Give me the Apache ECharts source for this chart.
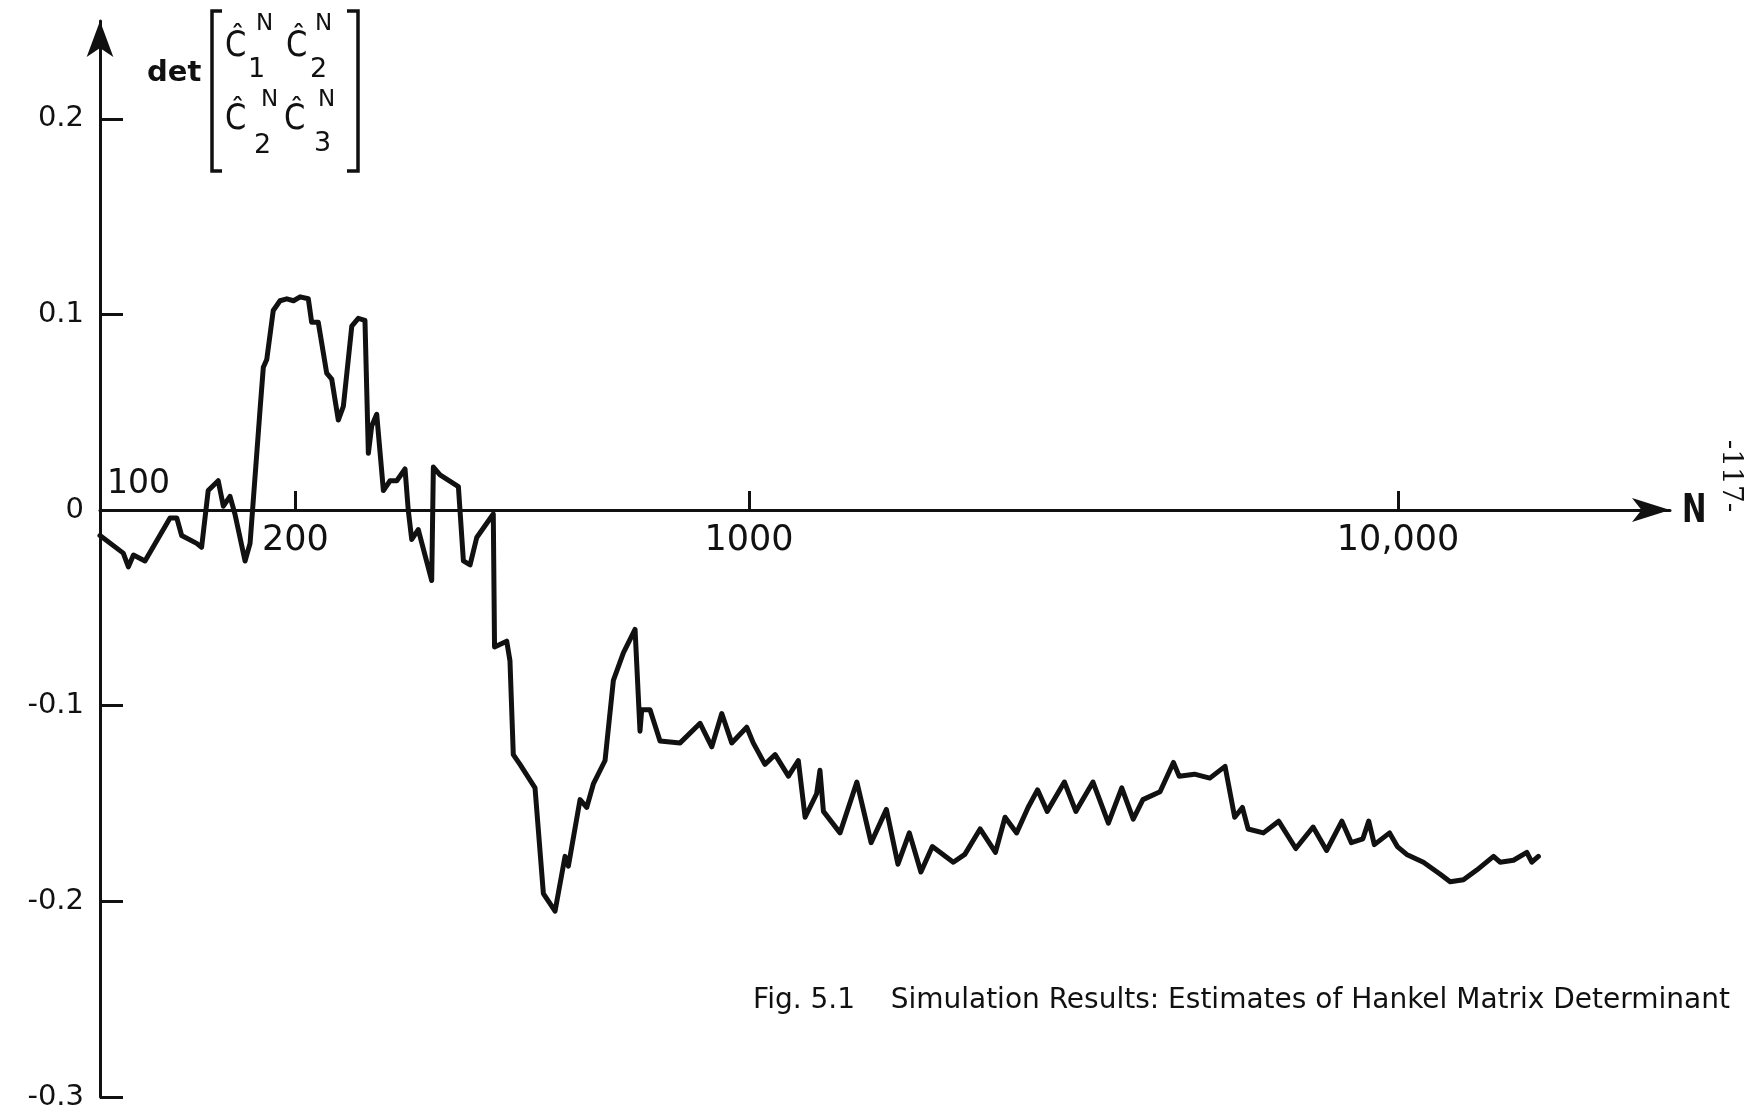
<!DOCTYPE html>
<html>
<head>
<meta charset="utf-8">
<script src="https://cdn.jsdelivr.net/npm/echarts@6/dist/echarts.min.js"></script>
<style>
  html, body { margin: 0; padding: 0; background: #fff; }
  #chart { width: 1756px; height: 1117px; }
</style>
</head>
<body>
<div id="chart"></div>
<script>
// sample size N (log axis) and the estimated determinant at that N
const sampleN = [
  100, 108.6, 110.6, 112.6, 117.3, 128.2, 131.3, 133.6, 140.9, 143.4,
  146.8, 152.1, 154.9, 158.6, 161.4, 167.3, 170.3, 176.4, 178.5, 180.7,
  184.9, 189.4, 194, 198.7, 203.4, 209.4, 211.9, 216.9, 223.5, 227.5,
  232.9, 237.1, 244.3, 250, 256, 259.1, 262.2, 266.9, 273.3, 279.8,
  286.6, 295.1, 298.5, 302.2, 309.3, 324.4, 326.3, 334.1, 356.6, 363,
  371.7, 380.6, 403.6, 405.4, 423.3, 428.2, 433.3, 443.7, 468, 482.1,
  502.5, 520.6, 526.8, 549.1, 562.2, 575.6, 600, 618, 640.3, 667.4,
  679.2, 683.4, 703.8, 729.2, 783.1, 840.6, 876.2, 907.8, 940.5, 991.9,
  1015, 1058, 1097, 1150, 1191, 1220, 1271, 1286, 1302, 1381,
  1466, 1542, 1628, 1696, 1766, 1840, 1916, 2064, 2150, 2270,
  2397, 2480, 2584, 2691, 2783, 2880, 3061, 3188, 3388, 3578,
  3752, 3908, 4044, 4298, 4507, 4599, 4856, 5128, 5413, 5601,
  5756, 5874, 6202, 6546, 6957, 7397, 7760, 8193, 8473, 8826,
  9011, 9193, 9703, 9975, 10310, 10940, 11600, 12030, 12610, 13220,
  14030, 14360, 15060, 15790, 16070, 16450
];
const determinant = [
  -0.013, -0.022, -0.029, -0.023, -0.026, -0.004, -0.004, -0.013, -0.017, -0.019,
  0.010, 0.015, 0.002, 0.007, -0.002, -0.026, -0.017, 0.051, 0.073, 0.077,
  0.102, 0.107, 0.108, 0.107, 0.109, 0.108, 0.096, 0.096, 0.070, 0.067,
  0.046, 0.053, 0.094, 0.098, 0.097, 0.029, 0.043, 0.049, 0.010, 0.015,
  0.015, 0.021, 0.000, -0.015, -0.010, -0.036, 0.022, 0.018, 0.012, -0.026,
  -0.028, -0.014, -0.002, -0.070, -0.067, -0.077, -0.125, -0.130, -0.142, -0.196,
  -0.205, -0.177, -0.182, -0.148, -0.152, -0.140, -0.128, -0.087, -0.073, -0.061,
  -0.113, -0.102, -0.102, -0.118, -0.119, -0.109, -0.121, -0.104, -0.119, -0.111,
  -0.119, -0.130, -0.125, -0.136, -0.128, -0.157, -0.145, -0.133, -0.154, -0.165,
  -0.139, -0.170, -0.153, -0.181, -0.165, -0.185, -0.172, -0.180, -0.176, -0.163,
  -0.175, -0.157, -0.165, -0.152, -0.143, -0.154, -0.139, -0.154, -0.139, -0.160,
  -0.142, -0.158, -0.148, -0.144, -0.129, -0.136, -0.135, -0.137, -0.131, -0.157,
  -0.152, -0.163, -0.165, -0.159, -0.173, -0.162, -0.174, -0.159, -0.170, -0.168,
  -0.159, -0.171, -0.165, -0.172, -0.176, -0.180, -0.186, -0.190, -0.189, -0.184,
  -0.177, -0.180, -0.179, -0.175, -0.180, -0.177
];
const yTicks = [-0.3, -0.2, -0.1, 0, 0.1, 0.2];
const xTicks = [200, 1000, 10000];
const xTickLabels = { 200: '200', 1000: '1000', 10000: '10,000' };

const ink = '#111';
const yMin = -0.3, yMax = 0.25;
const gridTop = 21, gridBottom = 20, chartH = 1117;
// push the N axis up from the grid bottom to the y = 0 line
const plotH = chartH - gridTop - gridBottom;
const zeroOffset = plotH * (0 - yMin) / (yMax - yMin);

const chart = echarts.init(document.getElementById('chart'));

const txt = (x, y, text, font, extra) => ({
  type: 'text', x: x, y: y, silent: true,
  style: Object.assign({ text: text, font: font, fill: ink, verticalAlign: 'middle' }, extra || {})
});
const narrow = (el, s) => Object.assign(el, { scaleX: s });
const cFont = '36px "DejaVu Sans"';
const supFont = '23px "DejaVu Sans"';
const subFont = '27px "DejaVu Sans"';

const option = {
  animation: false,
  backgroundColor: '#fff',
  grid: { left: 100, right: 86, top: gridTop, bottom: gridBottom, containLabel: false },
  xAxis: {
    type: 'log',
    logBase: 10,
    min: 100,
    max: 26240,
    position: 'bottom',
    offset: -zeroOffset,
    axisLine: {
      onZero: false,
      symbol: ['none', 'arrow'],
      symbolSize: [18, 38],
      lineStyle: { color: ink, width: 3 }
    },
    axisTick: {
      inside: true, length: 19, customValues: xTicks,
      lineStyle: { color: ink, width: 3 }
    },
    axisLabel: {
      customValues: xTicks,
      margin: 13,
      color: ink,
      fontFamily: 'DejaVu Sans',
      fontSize: 35,
      formatter: v => xTickLabels[Math.round(v)] || String(v)
    },
    splitLine: { show: false },
    minorTick: { show: false }
  },
  yAxis: {
    type: 'value',
    min: yMin,
    max: yMax,
    interval: 0.1,
    axisLine: {
      show: true,
      symbol: ['none', 'arrow'],
      symbolSize: [20, 36],
      lineStyle: { color: ink, width: 3 }
    },
    axisTick: {
      show: true, inside: true, length: 23, customValues: yTicks,
      lineStyle: { color: ink, width: 3 }
    },
    axisLabel: {
      customValues: yTicks,
      margin: 16,
      color: ink,
      fontFamily: 'DejaVu Sans',
      fontSize: 29,
      formatter: v => (Math.abs(v) < 1e-9 ? '0' : v.toFixed(1))
    },
    splitLine: { show: false }
  },
  series: [{
    type: 'line',
    data: sampleN.map((n, i) => [n, determinant[i]]),
    showSymbol: false,
    symbol: 'none',
    lineStyle: { color: ink, width: 5, join: 'round', cap: 'round' }
  }],
  graphic: [
    // "100" sits above the N axis at its origin
    txt(107, 484, '100', '33px "DejaVu Sans"'),
    narrow(txt(1682, 512, 'N', 'bold 39px "DejaVu Sans"'), 0.75),
    {
      type: 'text', x: 1730, y: 476, rotation: -Math.PI / 2, silent: true,
      style: { text: '-117-', font: '28px "DejaVu Serif"', fill: ink, align: 'center', verticalAlign: 'middle' }
    },
    // y-axis title: det of the 2x2 Hankel matrix estimate
    txt(147, 73, 'det', 'bold 29px "DejaVu Sans"'),
    { type: 'polyline', silent: true, shape: { points: [[222, 11], [212, 11], [212, 171], [222, 171]] },
      style: { stroke: ink, lineWidth: 3.5, fill: null } },
    { type: 'polyline', silent: true, shape: { points: [[347, 11], [358, 11], [358, 171], [347, 171]] },
      style: { stroke: ink, lineWidth: 3.5, fill: null } },
    narrow(txt(225, 47, '\u0108', cFont), 0.85),
    txt(256, 24, 'N', supFont),
    txt(248, 70, '1', subFont),
    narrow(txt(286, 47, '\u0108', cFont), 0.85),
    txt(315, 24, 'N', supFont),
    txt(310, 70, '2', subFont),
    narrow(txt(225, 120, '\u0108', cFont), 0.85),
    txt(261, 100, 'N', supFont),
    txt(254, 146, '2', subFont),
    narrow(txt(284, 120, '\u0108', cFont), 0.85),
    txt(318, 100, 'N', supFont),
    txt(314, 144, '3', subFont),
    // figure caption
    {
      type: 'text', x: 1730, y: 1001, silent: true,
      style: {
        text: 'Fig. 5.1    Simulation Results: Estimates of Hankel Matrix Determinant',
        font: '28px "DejaVu Sans"', fill: ink, align: 'right', verticalAlign: 'middle'
      }
    }
  ]
};

chart.setOption(option);
window.addEventListener('resize', () => chart.resize());
</script>
</body>
</html>
